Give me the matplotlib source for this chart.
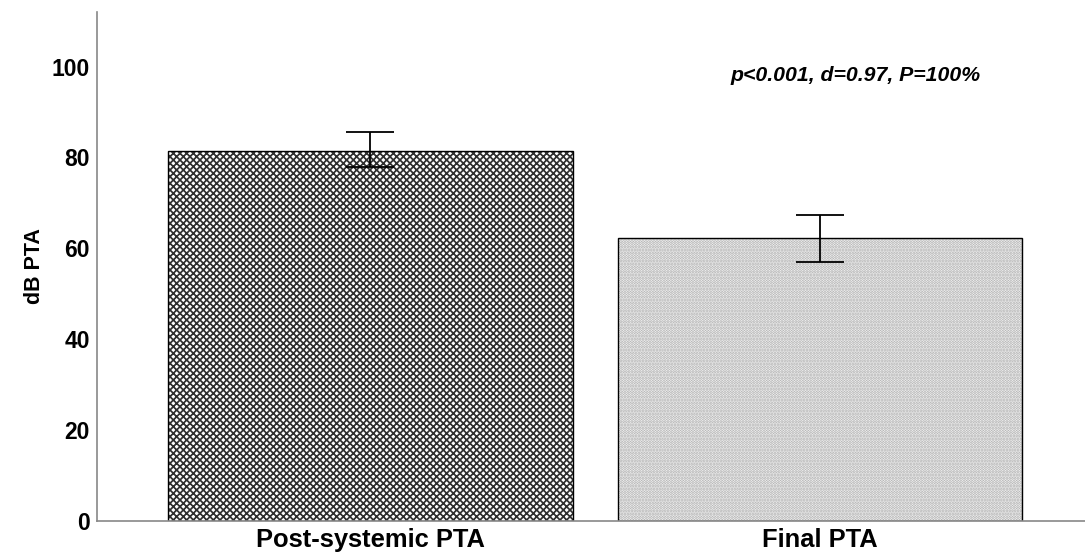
import matplotlib
matplotlib.use('Agg')
import matplotlib.pyplot as plt

categories = ['Post-systemic PTA', 'Final PTA']
means = [81.5, 62.3]
ci_low = [78.0, 57.0]
ci_high = [85.5, 67.4]
hatches = ['xxxxx', '......']
hatch_colors = ['#303030', '#a8a8a8']
hatch_widths = [1.25, 1.5]
annotation = 'p<0.001, d=0.97, P=100%'

plt.rcParams['font.family'] = ['Liberation Sans', 'DejaVu Sans']

fig = plt.figure(figsize=(10.85, 5.57), dpi=100)
ax = fig.add_axes([0.0894, 0.0646, 0.9106, 0.9139])

x = list(range(len(categories)))
# hatched fill first, then the black outline on top
for i in x:
    with plt.rc_context({'hatch.linewidth': hatch_widths[i]}):
        ax.bar(i, means[i], width=0.9, color='white', edgecolor=hatch_colors[i],
               hatch=hatches[i], linewidth=0)
ax.bar(x, means, width=0.9, fill=False, edgecolor='black', linewidth=1.0)

yerr = [[m - lo for m, lo in zip(means, ci_low)],
        [hi - m for m, hi in zip(means, ci_high)]]
ax.errorbar(x, means, yerr=yerr, fmt='none', ecolor='black',
            elinewidth=1.3, capsize=17, capthick=1.3)

ax.text(1.078, 98.0, annotation, ha='center', va='center',
        fontsize=15.3, fontstyle='italic', fontweight='bold')

ax.set_xlim(-0.607, 1.589)
ax.set_ylim(0, 112)
ax.set_yticks([0, 20, 40, 60, 80, 100])
ax.set_xticks(x)
ax.set_xticklabels(categories, fontsize=18.4, fontweight='bold')
for lbl in ax.get_yticklabels():
    lbl.set_fontsize(16.5)
    lbl.set_fontweight('bold')
ax.tick_params(length=0, pad=5)
ax.tick_params(axis='y', pad=5)
ax.set_ylabel('dB PTA', fontsize=15.5, fontweight='bold', labelpad=5)

for side in ['top', 'right']:
    ax.spines[side].set_visible(False)
for side in ['left', 'bottom']:
    ax.spines[side].set_color('#888888')
    ax.spines[side].set_linewidth(1.2)

fig.savefig('out.png', dpi=100)
